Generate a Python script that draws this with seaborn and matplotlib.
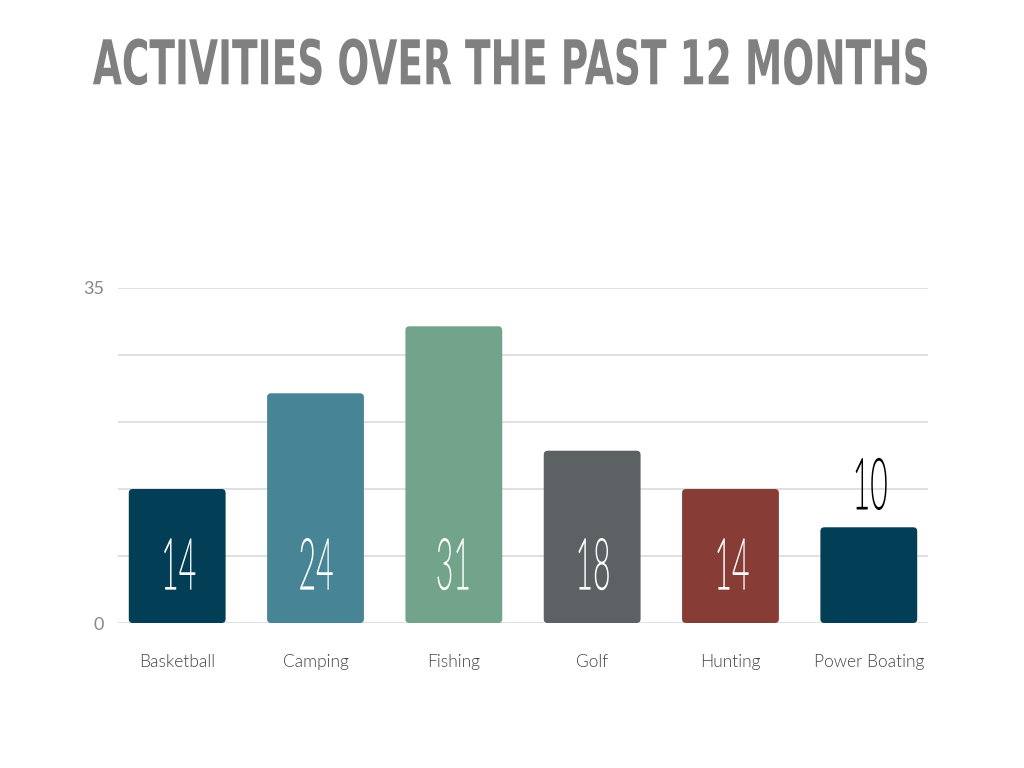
import matplotlib
matplotlib.use("Agg")
import matplotlib.pyplot as plt
from matplotlib.patches import FancyBboxPatch
from matplotlib.patheffects import AbstractPathEffect
from matplotlib.transforms import Affine2D
import seaborn as sns
import pandas as pd

# --- data ---
activities = ['Basketball', 'Camping', 'Fishing', 'Golf', 'Hunting', 'Power Boating']
counts = [14, 24, 31, 18, 14, 10]
bar_colors = ['#023E55', '#478496', '#72A48B', '#5C6163', '#873C36', '#023E55']
label_colors = ['white', 'white', 'white', 'white', 'white', 'black']
label_inside = [True, True, True, True, True, False]

df = pd.DataFrame({'activity': activities, 'count': counts})


class Squeeze(AbstractPathEffect):
    """Rescale text around its own centre (no condensed fonts installed)."""
    def __init__(self, sx, sy=1.0):
        super().__init__()
        self.sx = sx
        self.sy = sy

    def draw_path(self, renderer, gc, tpath, affine, rgbFace=None):
        ext = tpath.transformed(affine).get_extents()
        cx = (ext.x0 + ext.x1) / 2
        cy = (ext.y0 + ext.y1) / 2
        new = affine + Affine2D().translate(-cx, -cy).scale(self.sx, self.sy).translate(cx, cy)
        renderer.draw_path(gc, tpath, new, rgbFace)


sns.set_style('white')
plt.rcParams['font.family'] = ['Lato', 'DejaVu Sans']

fig = plt.figure(figsize=(10.24, 7.68), dpi=100)
ax = fig.add_axes([118 / 1024, 1 - 623 / 768, 810 / 1024, 335 / 768])

sns.barplot(data=df, x='activity', y='count', hue='activity', palette=bar_colors,
            legend=False, width=0.70, ax=ax, saturation=1)

ax.set_ylim(0, 35)
ax.set_xlim(-0.428, 5.428)

# swap plain bars for rounded ones
px_per_x = 810 / (5.428 + 0.428)
px_per_y = 335 / 35
aspect = px_per_x / px_per_y
for p, col in zip(list(ax.patches), bar_colors):
    x, w, h = p.get_x(), p.get_width(), p.get_height()
    p.remove()
    r = 4 / px_per_x
    ax.add_patch(FancyBboxPatch((x, 0), w, h, boxstyle=f'round,pad=0,rounding_size={r}',
                                mutation_aspect=aspect, facecolor=col, edgecolor='none', zorder=3))

# value labels
for i, (v, c, inside) in enumerate(zip(counts, label_colors, label_inside)):
    y = 5.6 if inside else v + 0.5
    va = 'center' if inside else 'bottom'
    ax.text(i, y, str(v), ha='center', va=va, color=c, fontsize=52, fontweight=300,
            zorder=4, path_effects=[Squeeze(0.42)])

# grid
ax.set_yticks([0, 7, 14, 21, 28, 35])
ax.set_yticklabels(['0', '', '', '', '', '35'])
ax.yaxis.grid(True, color='#DDDDDD', linewidth=1.3)
ax.set_axisbelow(True)
sns.despine(ax=ax, left=True, bottom=True)
ax.tick_params(axis='y', length=0, pad=10, labelsize=13, labelcolor='#888888')
ax.tick_params(axis='x', length=0, pad=22, labelsize=12.5, labelcolor='#444444')
for t in ax.get_xticklabels():
    t.set_fontweight(300)
ax.set_xlabel('')
ax.set_ylabel('')

title = fig.text(0.5, 1 - 65 / 768, 'ACTIVITIES OVER THE PAST 12 MONTHS', ha='center', va='center',
                 fontsize=30, color='#808080', fontweight='bold', family=['DejaVu Sans'])
# stretch the title to the reference size (~838 px wide, ~45 px caps)
fig.canvas.draw()
wpx = title.get_window_extent().width
title.set_path_effects([Squeeze(838 / wpx, 45 / (1.0125 * 30))])

fig.savefig('out.png', dpi=100, facecolor='white')
